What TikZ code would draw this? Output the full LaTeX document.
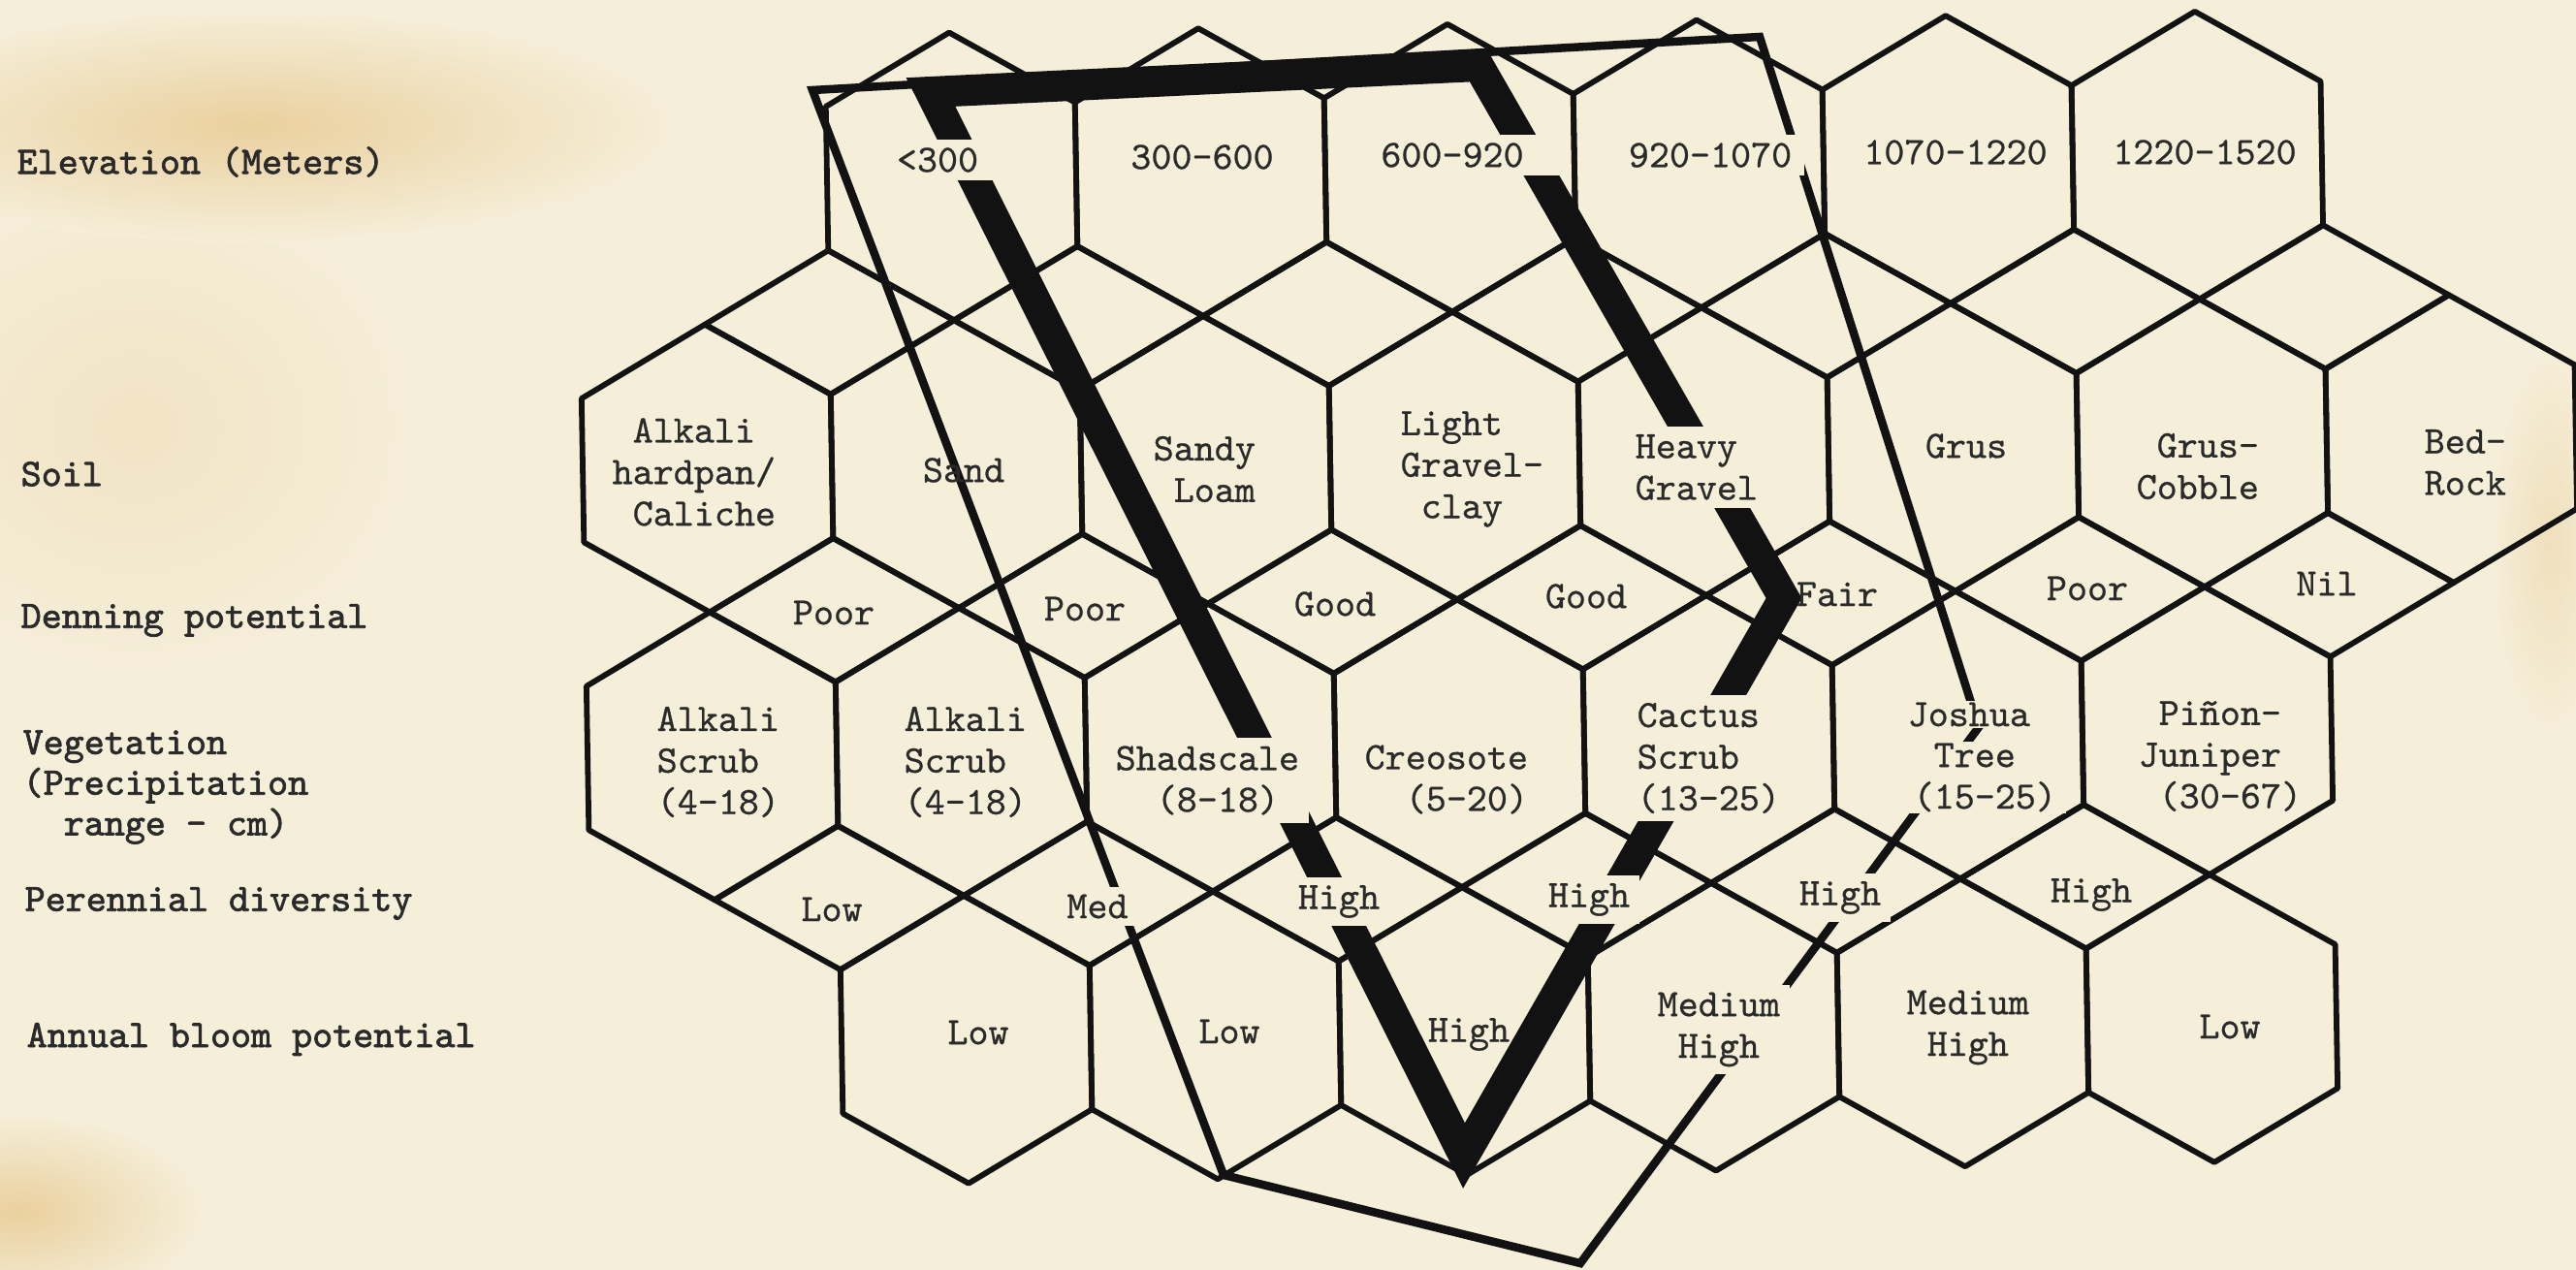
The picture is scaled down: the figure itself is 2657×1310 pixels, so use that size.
\documentclass[tikz,border=0pt]{standalone}
\usepackage{fontspec}
\newfontfamily\cellface{lmmono10-regular.otf}[FakeBold=0.6]
\newfontfamily\rowface{lmmono10-regular.otf}[FakeBold=1.8]

\definecolor{paper}{RGB}{245,238,217}
\definecolor{stain}{RGB}{234,208,158}
\definecolor{ink}{RGB}{18,18,18}

\newcommand{\cellfont}{\cellface\fontsize{11.4}{12.2}\selectfont}
\newcommand{\rowfont}{\rowface\fontsize{11.4}{11.9}\selectfont}
\newcommand{\tsp}{\hphantom{0}}% one typed blank

% one cell of the honeycomb: column, row
\newcommand{\hexat}[2]{%
  \draw[hexline] ({724.5+257*#1},{33.6+296.8*#2}) -- ++(128.5,74.2) -- ++(0,148.4)
    -- ++(-128.5,74.2) -- ++(-128.5,-74.2) -- ++(0,-148.4) -- cycle;}
% one diamond between two rows: column, upper row
\newcommand{\rhombat}[2]{%
  \draw[hexline] ({853+257*#1},{256.2+296.8*#2}) -- ++(128.5,74.2) -- ++(-128.5,74.2)
    -- ++(-128.5,-74.2) -- cycle;}

\begin{document}
\begin{tikzpicture}[x=0.1mm, y=-0.1mm,
    hexline/.style={ink, line width=0.58mm, line join=round},
    thickpath/.style={ink, line width=3.2mm, line join=miter},
    thinpath/.style={ink, line width=0.85mm, line join=miter},
    lbl/.style={font=\cellfont, text=ink!90, align=left, fill=paper, inner xsep=1mm, inner ysep=0.8mm},
    lblbare/.style={lbl, fill=none},
    rowname/.style={font=\rowfont, text=ink!90, align=left, anchor=west, inner sep=0pt}]

    % paper and stains
    \fill[paper] (0,0) rectangle (2657,1310);
    \useasboundingbox (0,0) rectangle (2657,1310);
    \shade[inner color=stain!35!paper, outer color=paper] (140,440) ellipse (300 and 260);
    \shade[inner color=stain, outer color=paper] (260,130) ellipse (440 and 120);
    \shade[inner color=stain, outer color=paper] (20,1250) ellipse (190 and 100);
    \shade[inner color=stain!50!paper, outer color=paper] (2630,560) ellipse (60 and 200);

    % honeycomb, a little skewed on the page
    \begin{scope}[rotate around={0.97:(980,182)}]
        \foreach \k in {1,...,6} {\hexat{\k}{0}}
        \foreach \k in {0,...,7} {\hexat{\k}{1}}
        \foreach \k in {0,...,6} {\hexat{\k}{2}}
        \foreach \k in {1,...,6} {\hexat{\k}{3}}
        \foreach \k in {0,...,6} {\rhombat{\k}{0} \rhombat{\k}{1}}
        \foreach \k in {0,...,5} {\rhombat{\k}{2}}
    \end{scope}

    % heavy outline
    \coordinate (hA) at (960,95);
    \coordinate (hB) at (1525,68);
    \coordinate (hC) at (1840,617);
    \coordinate (hD) at (1510,1192);
    \draw[thickpath] (hA) -- (hB) -- (hC) -- (hD) -- cycle;

    % light outline
    \coordinate (tA) at (838,93);
    \coordinate (tB) at (1815,38);
    \coordinate (tC) at (2041,750);
    \coordinate (tD) at (1630,1303);
    \coordinate (tE) at (1262,1212);
    \draw[thinpath] (tA) -- (tB) -- (tC) -- (tD) -- (tE) -- cycle;

    % elevation
    \node[lbl, minimum width=12.6mm] (elev1) at (967,165) {<300};
    \node[lblbare] (elev2) at (1240,162) {300-600};
    \node[lbl, minimum width=22.4mm] (elev3) at (1498,160) {600-920};
    \node[lbl, minimum width=19.4mm] (elev4) at (1764,160) {920-1070};
    \node[lblbare] (elev5) at (2017,157) {1070-1220};
    \node[lblbare] (elev6) at (2274,157) {1220-1520};

    % soil
    \node[lblbare, anchor=west] (soil0) at (621,487) {\tsp Alkali\\hardpan/\\\tsp Caliche};
    \node[lblbare] (soil1) at (994,485) {Sand};
    \node[lblbare, anchor=west] (soil2) at (1179,484) {Sandy\\\tsp Loam};
    \node[lblbare, anchor=west] (soil3) at (1434,484) {Light\\Gravel-\\\tsp clay};
    \node[lbl, anchor=west] (soil4) at (1676,482) {Heavy\\Gravel};
    \node[lblbare] (soil5) at (2028,460) {Grus};
    \node[lblbare, anchor=west] (soil6) at (2193,481) {\tsp Grus-\\Cobble};
    \node[lblbare, anchor=west] (soil7) at (2490,477) {Bed-\\Rock};

    % denning
    \node[lblbare] (den0) at (860,632) {Poor};
    \node[lblbare] (den1) at (1119,628) {Poor};
    \node[lblbare] (den2) at (1377,623) {Good};
    \node[lblbare] (den3) at (1636,615) {Good};
    \node[lblbare] (den4) at (1895,613) {Fair};
    \node[lblbare] (den5) at (2153,607) {Poor};
    \node[lblbare] (den6) at (2400,602) {Nil};

    % vegetation
    \node[lblbare, anchor=west] (veg0) at (667,786) {Alkali\\Scrub\\(4-18)};
    \node[lblbare, anchor=west] (veg1) at (922,786) {Alkali\\Scrub\\(4-18)};
    \node[lbl, anchor=west] (veg2) at (1140,805) {Shadscale\\\tsp\tsp(8-18)};
    \node[lblbare, anchor=west] (veg3) at (1397,804) {Creosote\\\tsp\tsp(5-20)};
    \node[lbl, anchor=west] (veg4) at (1678,782) {Cactus\\Scrub\\(13-25)};
    \node[lbl, anchor=west, inner ysep=0.2mm] (veg5) at (1957,737) {Joshua};
    \node[lbl, anchor=west, inner ysep=0.2mm] (veg5r) at (1963,802) {\tsp Tree\\(15-25)};
    \node[lblbare, anchor=west] (veg6) at (2195,780) {\tsp Piñon-\\Juniper\\\tsp(30-67)};

    % perennial diversity
    \node[lblbare] (div0) at (858,938) {Low};
    \node[lbl] (div1) at (1132,935) {Med};
    \node[lbl] (div2) at (1381,930) {High};
    \node[lbl] (div3) at (1639,928) {High};
    \node[lbl] (div4) at (1898,926) {High};
    \node[lblbare] (div5) at (2157,923) {High};

    % annual bloom
    \node[lblbare] (bloom1) at (1009,1065) {Low};
    \node[lblbare] (bloom2) at (1268,1064) {Low};
    \node[lblbare] (bloom3) at (1515,1067) {High};
    \node[lbl, anchor=west] (bloom4) at (1699,1062) {Medium\\\tsp High};
    \node[lblbare, anchor=west] (bloom5) at (1956,1060) {Medium\\\tsp High};
    \node[lblbare] (bloom6) at (2300,1059) {Low};

    % row names
    \node[rowname] (elevname) at (17,167) {Elevation (Meters)};
    \node[rowname] (soilname) at (21,489) {Soil};
    \node[rowname] (denname) at (21,640) {Denning potential};
    \node[rowname] (vegname) at (23,812) {Vegetation\\(Precipitation\\\hphantom{(P}range - cm)};
    \node[rowname] (divname) at (25,932) {Perennial diversity};
    \node[rowname] (bloomname) at (27,1072) {Annual bloom potential};
\end{tikzpicture}
\end{document}
